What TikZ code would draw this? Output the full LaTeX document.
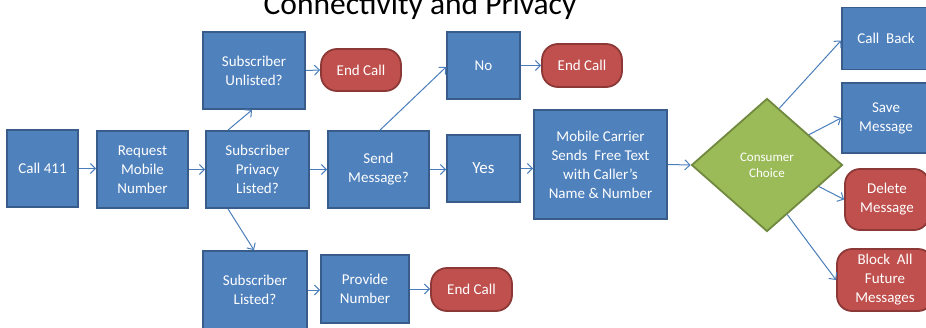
\documentclass[tikz,border=0pt]{standalone}
\usepackage{fontspec}
\setmainfont{Carlito}
\usetikzlibrary{shapes.geometric,arrows.meta,calc}
\definecolor{bfill}{HTML}{4F81BD}
\definecolor{bline}{HTML}{385D8A}
\definecolor{rfill}{HTML}{C0504D}
\definecolor{rline}{HTML}{8C3836}
\definecolor{gfill}{HTML}{9BBB59}
\definecolor{gline}{HTML}{71893F}
\definecolor{aline}{HTML}{4A7EBB}
\begin{document}
\begin{tikzpicture}[x=1pt,y=-1pt,
  bbox/.style={draw=bline, fill=bfill, line width=1.8pt, text=white, align=center,
    font=\fontsize{15}{19}\selectfont, inner sep=0pt},
  rbox/.style={bbox, draw=rline, fill=rfill, rounded corners=16pt},
  gdia/.style={diamond, draw=gline, fill=gfill, line width=1.8pt, text=white, align=center,
    font=\fontsize{13}{16}\selectfont, inner sep=0pt},
  arr/.style={draw=aline, line width=1pt, -{Straight Barb[length=5pt,width=10pt]}}]
\useasboundingbox (0,0) rectangle (926,327);
\clip (0,0) rectangle (926,327);

\node[font=\fontsize{31.5}{36}\selectfont, anchor=base] (title) at (420,14) {Connectivity and Privacy};

\node[bbox, minimum width=71pt, minimum height=77pt] (call) at (42.5,168.5) {Call 411};
\node[bbox, minimum width=91pt, minimum height=77pt] (req) at (142.5,169.5) {Request\\Mobile\\Number};
\node[bbox, minimum width=103pt, minimum height=77pt] (priv) at (257.5,169.5) {Subscriber\\Privacy\\Listed?};
\node[bbox, minimum width=101pt, minimum height=77pt] (send) at (378.5,169.5) {Send\\Message?};
\node[bbox, minimum width=102pt, minimum height=77pt] (unl) at (254,70.5) {Subscriber\\Unlisted?};
\node[rbox, minimum width=80pt, minimum height=42pt] (end1) at (361,70) {End Call};
\node[bbox, minimum width=73pt, minimum height=67pt] (no) at (483.5,65.5) {No};
\node[rbox, minimum width=80pt, minimum height=43pt] (end2) at (582,65.5) {End Call};
\node[bbox, font=\fontsize{17}{20}\selectfont, minimum width=73pt, minimum height=67pt] (yes) at (483.5,168.5) {Yes};
\node[bbox, minimum width=133pt, minimum height=109pt] (mob) at (600.5,164.5) {Mobile Carrier\\Sends\ \ Free Text\\with Caller’s\\Name \& Number};
\node[gdia, minimum width=151pt, minimum height=133pt] (dia) at (767,165) {Consumer\\Choice};
\node[bbox, minimum width=88pt, minimum height=62pt] (cb) at (886,38.5) {Call\ \ Back};
\node[bbox, minimum width=88pt, minimum height=70pt] (save) at (886,118) {Save\\Message};
\node[rbox, rounded corners=15pt, minimum width=84pt, minimum height=61pt] (del) at (887,199.5) {Delete\\Message};
\node[rbox, rounded corners=15pt, minimum width=96pt, minimum height=62pt] (blk) at (885,280) {Block\ \ All\\Future\\Messages};
\node[bbox, minimum width=104pt, minimum height=78pt] (lst) at (255,290) {Subscriber\\Listed?};
\node[bbox, minimum width=88pt, minimum height=68pt] (prov) at (365,289) {Provide\\Number};
\node[rbox, minimum width=81pt, minimum height=43pt] (end3) at (471.5,289.5) {End Call};

\draw[arr] (call.east) -- (req.west |- call.east);
\draw[arr] (req.east) -- (priv.west);
\draw[arr] (priv.east) -- (send.west);
\draw[arr] (send.east) -- (yes.west |- send.east);
\draw[arr] (yes.east) -- (mob.west |- yes.east);
\draw[arr] (mob.east) -- (dia.west);
\draw[arr] ([xshift=-29.5pt]priv.north) -- ([xshift=-2pt]unl.south);
\draw[arr] (unl.east) -- (end1.west);
\draw[arr] ([xshift=1.5pt]send.north) -- ([yshift=-1.5pt]no.west);
\draw[arr] (no.east) -- (end2.west);
\draw[arr] ([xshift=-29.5pt]priv.south) -- ([xshift=-1pt]lst.north);
\draw[arr] (lst.east) -- (prov.west |- lst.east);
\draw[arr] (prov.east) -- (end3.west |- prov.east);
\draw[arr] ($(dia.north)!0.16!(dia.east)$) -- ([yshift=-2pt]cb.west);
\draw[arr] ($(dia.north)!0.55!(dia.east)$) -- (save.west);
\draw[arr] ($(dia.east)!0.32!(dia.south)$) -- (del.west);
\draw[arr] ($(dia.east)!0.735!(dia.south)$) -- (blk.west);
\end{tikzpicture}
\end{document}
